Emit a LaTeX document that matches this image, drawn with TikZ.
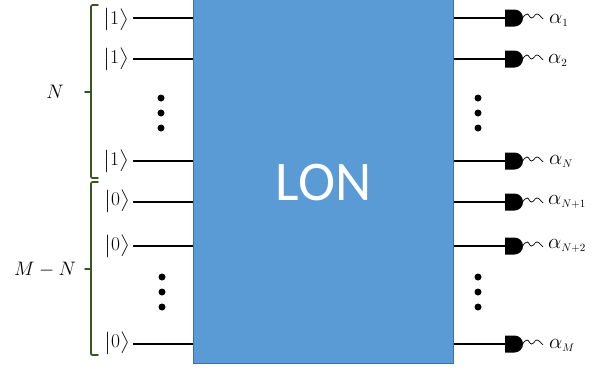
\RequirePackage{fix-cm}
\documentclass[tikz,border=0pt]{standalone}
\usepackage{amsmath}
\usepackage{graphicx}
\usepackage{fontspec}
\newfontfamily\lonfont{Carlito}
\DeclareMathSizes{19.5}{19.5}{10}{8}
\DeclareMathSizes{21}{21}{11}{8}
\definecolor{lonblue}{HTML}{5B9BD5}
\definecolor{lonedge}{HTML}{41719C}
\definecolor{bracegreen}{HTML}{385723}
\newcommand{\bigtext}{\fontsize{19.5}{22}\selectfont}
\newcommand{\alphatext}{\fontsize{21}{23}\selectfont}
\newcommand{\ketof}[1]{$\vcenter{\hbox{\scalebox{1}[.88]{$\bigl|$}}}#1\vcenter{\hbox{\scalebox{1}[.88]{$\bigr\rangle$}}}$}
\tikzset{
  wire/.style={line width=1.6pt,black},
  outwire/.style={line width=1.4pt,black},
  bracket/.style={line width=1.7pt,bracegreen,line cap=round,line join=round,rounded corners=1.2pt},
  ket/.style={inner sep=0pt,anchor=center,font=\bigtext},
  lab/.style={inner sep=0pt,anchor=base west,font=\alphatext},
  sidelab/.style={inner sep=0pt,anchor=center,font=\bigtext},
  dotmark/.style={circle,fill=black,inner sep=0pt,minimum size=7pt},
  pics/detector/.style={code={
    \fill[black] (0,-8.5) -- (9.5,-8.5) arc[start angle=-90,end angle=90,radius=8.5] -- (0,8.5) -- cycle;
    \draw[black,line width=0.7pt,line join=round]
      (17.5,0) .. controls (19,-2) and (20.5,-4) .. (22,-4)
      .. controls (24,-4) and (24.5,0) .. (26.5,0)
      .. controls (28.5,0) and (30,-4) .. (32,-4)
      .. controls (34,-4) and (36,-1) .. (38,1);
  }}
}
\begin{document}
\begin{tikzpicture}[x=1pt,y=-1pt]
\useasboundingbox (0,0) rectangle (612,370);
\node[fill=lonblue,draw=lonedge,line width=0.5pt,minimum width=260pt,minimum height=364pt,inner sep=0pt,anchor=north west] (LON) at (193,-1) {};
\node[text=white,inner sep=0pt,font=\lonfont\fontsize{56}{56}\selectfont] (LONtext) at (323.5,183) {LON};

% input states
\node[ket] (k1) at (116,19.5) {\ketof{1}};
\node[ket] (k2) at (116,59) {\ketof{1}};
\node[ket] (k3) at (116,161) {\ketof{1}};
\node[ket] (k4) at (117,201) {\ketof{0}};
\node[ket] (k5) at (117,246) {\ketof{0}};
\node[ket] (k6) at (117,343) {\ketof{0}};

% wire ends
\foreach \n/\yy/\xx in {1/18/133,2/59/133,3/161/133,4/202/133,5/246/133,6/344/133}{
  \coordinate (a\n) at (\xx,\yy);
  \coordinate (b\n) at (LON.west |- a\n);
  \coordinate (c\n) at (LON.east |- a\n);
  \coordinate (d\n) at (505,\yy);
  \draw[wire] (a\n) -- (b\n);
  \draw[outwire] (c\n) -- (d\n);
  \pic at (d\n) {detector};
}

% output labels
\node[lab] (o1) at (549,23) {$\alpha_{1}$};
\node[lab] (o2) at (548,63) {$\alpha_{2}$};
\node[lab] (o3) at (549,164) {$\alpha_{N}$};
\node[lab] (o4) at (548,204) {$\alpha_{N+1}$};
\node[lab] (o5) at (548,248) {$\alpha_{N+2}$};
\node[lab] (o6) at (549,348) {$\alpha_{M}$};

% brackets
\coordinate (bra1t) at (98,5);
\coordinate (bra1b) at (98,178);
\coordinate (bra1m) at (85,92);
\coordinate (bra2t) at (98,182);
\coordinate (bra2b) at (98,355);
\coordinate (bra2m) at (85,269);
\draw[bracket] (bra1t) -- (91,5) -- (91,178) -- (bra1b);
\draw[bracket] (bra1m) -- (91,92);
\draw[bracket] (bra2t) -- (91,182) -- (91,355) -- (bra2b);
\draw[bracket] (bra2m) -- (91,269);

\node[sidelab] (N) at (55,92) {$N$};
\node[sidelab] (MN) at (45,270) {$M-N$};

% dots
\foreach \xx/\yy in {161/98,161/113,161/128,478/98,478/113,478/128,162/277,162/292,162/307,478/277,478/292,478/307}{
  \node[dotmark] at (\xx,\yy) {};
}
\end{tikzpicture}
\end{document}
